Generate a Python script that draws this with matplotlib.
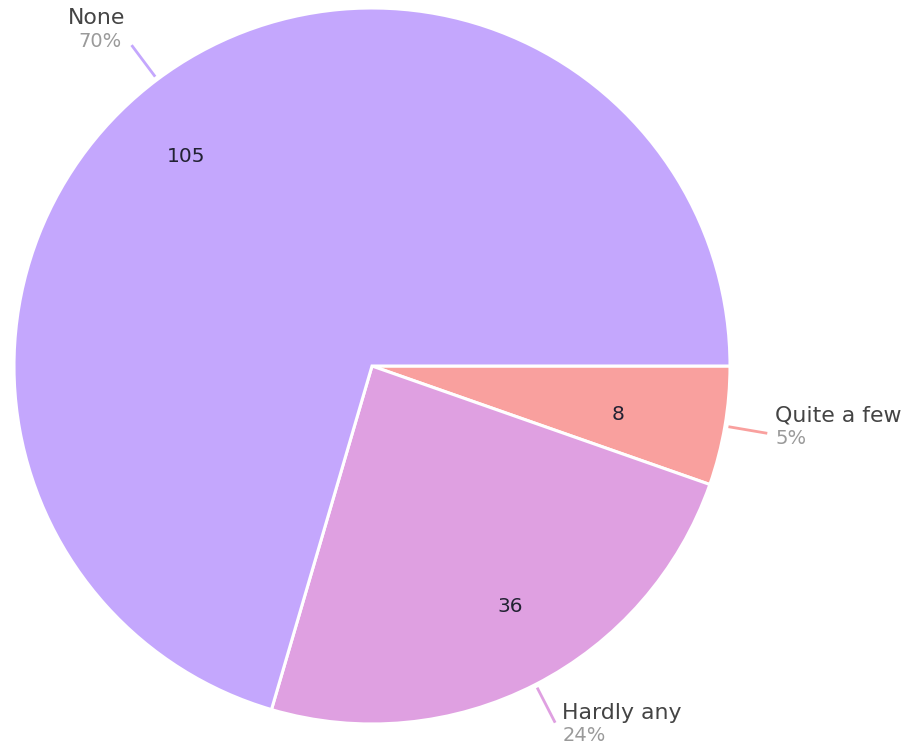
import numpy as np
import matplotlib
matplotlib.use("Agg")
import matplotlib.pyplot as plt

labels = ["Quite a few", "Hardly any", "None"]
values = [8, 36, 105]
percents = ["5%", "24%", "70%"]
colors = ["#F9A09E", "#DFA0E1", "#C4A7FD"]

# layout tweaks (styling only)
inner_r = [0.70, 0.775, 0.782]
inner_dang = [-1.6, 2.7, 4.7]
lab_dx = [8, 7, -6]
lab_dy = [18, 10, 27]   # upward offset of name centre from leader end (px)

W, H = 915, 751
fig = plt.figure(figsize=(W / 100, H / 100), dpi=100)
ax = fig.add_axes([0, 0, 1, 1])

cx, cy, R = 372, H - 366, 358
wedges, _ = ax.pie(values, colors=colors, startangle=0, counterclock=False,
                   center=(cx, cy), radius=R, frame=False,
                   wedgeprops=dict(edgecolor="white", linewidth=2.2))
ax.set_xlim(0, W)
ax.set_ylim(0, H)
ax.set_aspect("equal")
ax.axis("off")

fam = ['DejaVu Sans']
fs_name, fs_pct, fs_val = 15.8, 14, 14.5
for i, (w, lab, v, p, c) in enumerate(zip(wedges, labels, values, percents, colors)):
    midd = (w.theta1 + w.theta2) / 2
    mid = np.deg2rad(midd)
    ux, uy = np.cos(mid), np.sin(mid)
    a2 = np.deg2rad(midd + inner_dang[i])
    ax.text(cx + inner_r[i] * R * np.cos(a2), cy + inner_r[i] * R * np.sin(a2), str(v),
            ha="center", va="center", fontsize=fs_val, color="#222233", family=fam)
    x0, y0 = cx + 1.01 * R * ux, cy + 1.01 * R * uy
    x1, y1 = cx + 1.12 * R * ux, cy + 1.12 * R * uy
    ax.plot([x0, x1], [y0, y1], color=c, lw=2, solid_capstyle="butt")
    ha = "left" if ux >= 0 else "right"
    tx = x1 + lab_dx[i]
    ty = y1 + lab_dy[i]
    ax.text(tx, ty, lab, ha=ha, va="center", fontsize=fs_name, color="#444444", family=fam)
    ax.text(tx - (4 if ha == "right" else 0), ty - 23, p, ha=ha, va="center",
            fontsize=fs_pct, color="#9a9a9a", family=fam)

fig.savefig("out.png", dpi=100, facecolor="white")
